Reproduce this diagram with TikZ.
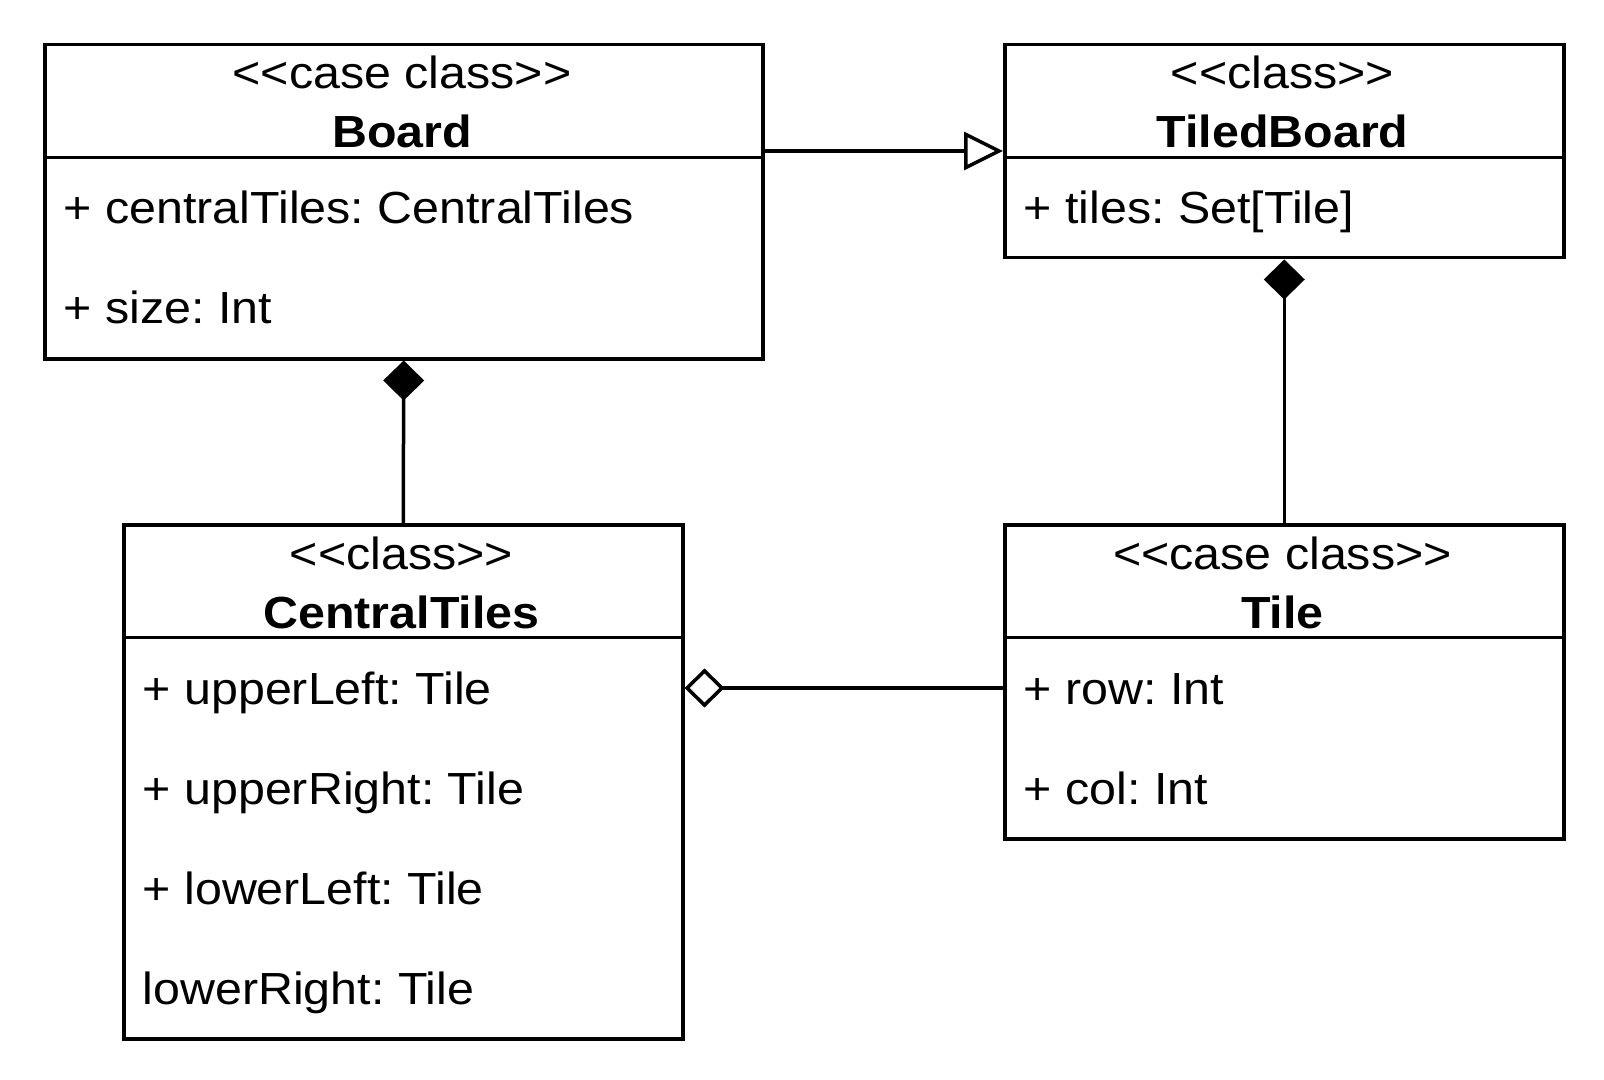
\documentclass[tikz,border=0pt]{standalone}
\usepackage{fontspec}
\setmainfont{Liberation Sans}[FakeStretch=1.075]
\usetikzlibrary{arrows.meta,positioning}
\frenchspacing

\newcommand{\umlst}[1]{<{}<#1>{}>}

\begin{document}
\begin{tikzpicture}[x=0.5pt,y=-0.5pt,line width=1.75pt,
    classbox/.style={rectangle,draw,anchor=north west,inner sep=0pt,minimum width=279.5pt},
    txt/.style={anchor=base,inner sep=0pt,font=\fontsize{22.5}{27}\selectfont},
    attr/.style={anchor=base west,inner sep=0pt,font=\fontsize{22.5}{27}\selectfont}]

        \useasboundingbox (0,0) rectangle (1604,1080);

        % classes
        \node [classbox,minimum width=359pt,minimum height=157pt] (board) at (43,43) {};
        \node [classbox,minimum height=106.5pt] (tiled) at (1003,43) {};
        \node [classbox,minimum height=257pt] (ctiles) at (122,523) {};
        \node [classbox,minimum height=157pt] (tile) at (1003,523) {};

        \draw ([yshift=-57.25pt]board.north west) -- ([yshift=-57.25pt]board.north east);
        \draw ([yshift=-57.25pt]tiled.north west) -- ([yshift=-57.25pt]tiled.north east);
        \draw ([yshift=-57.25pt]ctiles.north west) -- ([yshift=-57.25pt]ctiles.north east);
        \draw ([yshift=-57.25pt]tile.north west) -- ([yshift=-57.25pt]tile.north east);

        \node [txt] (boardS) at (402,89) {\umlst{case class}};
        \node [txt] (boardN) at (402,148) {\bfseries Board};
        \node [attr] (boardA1) at (62,224) {+ centralTiles: CentralTiles};
        \node [attr] (boardA2) at (62,324) {+ size: Int};

        \node [txt] (tiledS) at (1282.5,89) {\umlst{class}};
        \node [txt] (tiledN) at (1282.5,148) {\bfseries TiledBoard};
        \node [attr] (tiledA1) at (1022,224) {+ tiles: Set[Tile]};

        \node [txt] (ctilesS) at (401.5,569) {\umlst{class}};
        \node [txt] (ctilesN) at (401.5,628) {\bfseries CentralTiles};
        \node [attr] (ctilesA1) at (141,704) {+ upperLeft: Tile};
        \node [attr] (ctilesA2) at (141,804) {+ upperRight: Tile};
        \node [attr] (ctilesA3) at (141,904) {+ lowerLeft: Tile};
        \node [attr] (ctilesA4) at (141,1004) {lowerRight: Tile};

        \node [txt] (tileS) at (1282.5,569) {\umlst{case class}};
        \node [txt] (tileN) at (1282.5,628) {\bfseries Tile};
        \node [attr] (tileA1) at (1022,704) {+ row: Int};
        \node [attr] (tileA2) at (1022,804) {+ col: Int};

        % relations
        \draw [-{Triangle[open,length=19.5pt,width=19pt]}] ([yshift=-54pt]board.north east) -- ([yshift=-54pt]tiled.north west);
        \draw [{Diamond[length=20pt,width=20.5pt]}-] (board.south) -- (ctiles.north);
        \draw [{Diamond[length=20pt,width=20.5pt]}-] (tiled.south) -- (tile.north);
        \draw [{Diamond[open,length=20pt,width=19.5pt]}-] ([yshift=-82.5pt]ctiles.north east) -- ([yshift=-82.5pt]tile.north west);
    \end{tikzpicture}
\end{document}
